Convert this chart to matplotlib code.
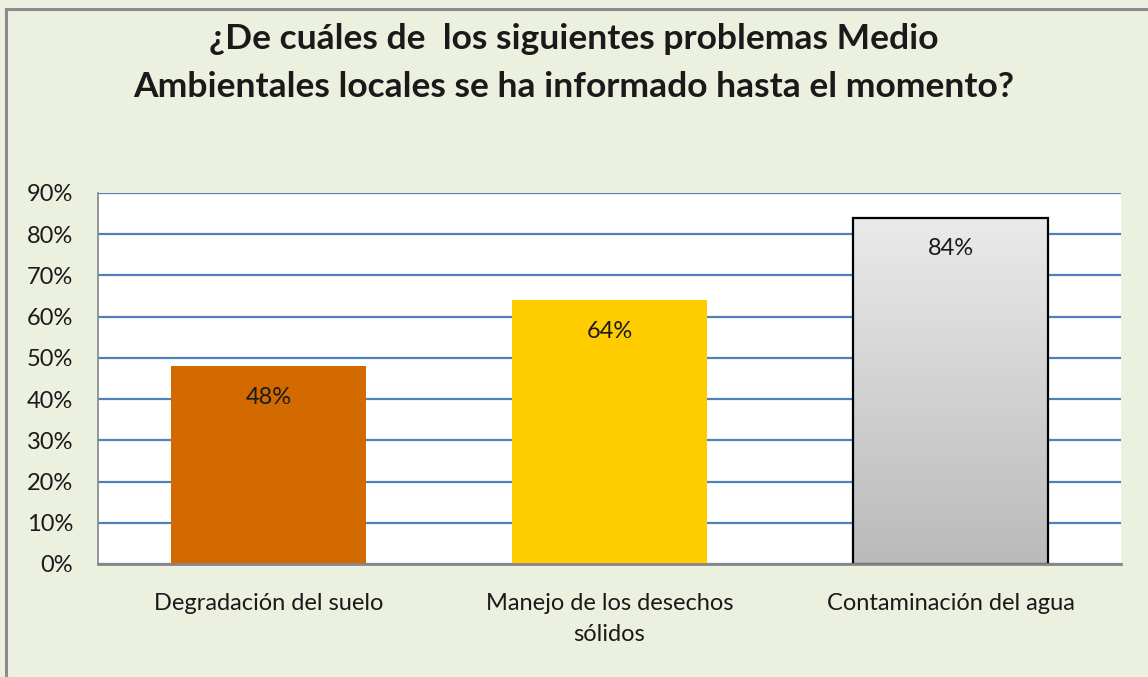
import matplotlib
matplotlib.use("Agg")
import matplotlib.pyplot as plt
import numpy as np
from matplotlib.colors import LinearSegmentedColormap

categories = ["Degradación del suelo", "Manejo de los desechos\nsólidos", "Contaminación del agua"]
values = [0.48, 0.64, 0.84]
value_labels = ["48%", "64%", "84%"]
yticks = [0, 0.1, 0.2, 0.3, 0.4, 0.5, 0.6, 0.7, 0.8, 0.9]
ytick_labels = ["0%", "10%", "20%", "30%", "40%", "50%", "60%", "70%", "80%", "90%"]
title = "¿De cuáles de  los siguientes problemas Medio\nAmbientales locales se ha informado hasta el momento?"

bg = "#EBF0DF"
fam = ["Lato", "DejaVu Sans"]

fig = plt.figure(figsize=(11.48, 6.77), dpi=100)
fig.patch.set_facecolor(bg)
# outer frame (left & top visible)
fig.add_artist(plt.Line2D([6/1148, 6/1148], [0, 1 - 9/677], transform=fig.transFigure, color="#8C8C8C", lw=2.2))
fig.add_artist(plt.Line2D([6/1148, 1], [1 - 9/677, 1 - 9/677], transform=fig.transFigure, color="#8C8C8C", lw=2.2))

ax = fig.add_axes([98/1148, 1 - 564/677, (1121 - 98)/1148, (564 - 193)/677])
ax.set_facecolor("white")
x = np.arange(len(categories))
width = 0.572
bars = ax.bar(x, values, width=width, color=["#D26A00", "#FFCC00", "none"], zorder=3)
# gradient bar
b3 = bars[2]
b3.set_edgecolor("black")
b3.set_linewidth(1.6)
grad = np.linspace(0, 1, 256).reshape(-1, 1)
cmap = LinearSegmentedColormap.from_list("g", ["#BABABA", "#EAEAEA"])
bx, bw, bh = b3.get_x(), b3.get_width(), b3.get_height()
ax.imshow(grad, cmap=cmap, aspect="auto", origin="lower",
          extent=[bx, bx + bw, 0, bh], zorder=2.5)
ax.set_xlim(-0.5, len(categories) - 0.5)
ax.set_ylim(0, 0.9)
ax.set_yticks(yticks)
ax.set_yticklabels(ytick_labels, fontsize=17, family=fam, color="#1a1a1a")
ax.set_xticks(x)
ax.set_xticklabels(categories, fontsize=17, family=fam, color="#1a1a1a", linespacing=1.6)
ax.tick_params(axis="both", length=0)
ax.tick_params(axis="y", pad=18)
ax.tick_params(axis="x", pad=21)
ax.yaxis.grid(True, color="#4F81BD", lw=1.6, zorder=1)
ax.set_axisbelow(True)
for s in ["top", "right"]:
    ax.spines[s].set_visible(False)
ax.spines["left"].set_color("#868686")
ax.spines["left"].set_linewidth(1.2)
ax.spines["bottom"].set_color("#868686")
ax.spines["bottom"].set_linewidth(2)
ax.spines["bottom"].set_zorder(4)

for xi, v, t in zip(x, values, value_labels):
    ax.annotate(t, (xi, v), xytext=(0, -31), textcoords="offset pixels",
                ha="center", va="center", fontsize=17, family=fam, color="#1a1a1a", zorder=5)

fig.text(0.5, 1 - 63/677, title, ha="center", va="center", fontsize=25.5, fontweight="bold",
         family=fam, color="#1a1a1a", linespacing=1.58)

fig.savefig("out.png", dpi=100, facecolor=bg)
